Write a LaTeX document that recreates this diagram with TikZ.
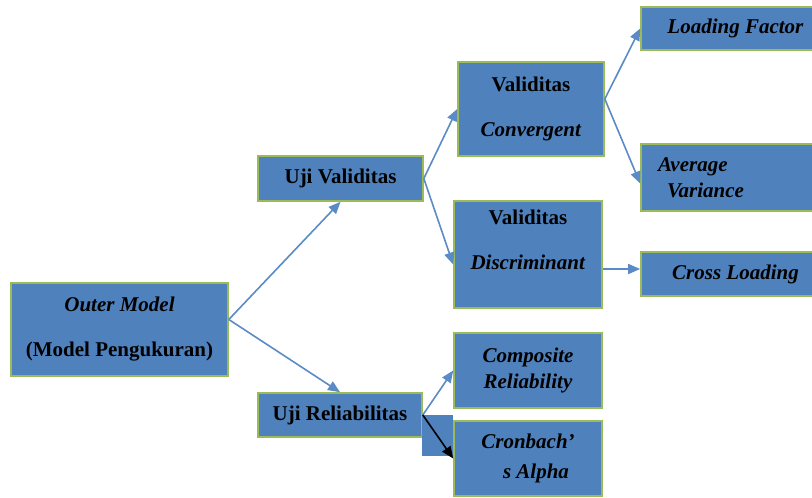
\documentclass[tikz,border=0pt]{standalone}
\usepackage{fontspec}
\setmainfont{Liberation Serif}
\usetikzlibrary{arrows.meta}
\definecolor{boxblue}{HTML}{4F81BD}
\definecolor{boxgreen}{HTML}{9BBB59}
\definecolor{arrowblue}{HTML}{5B8BC6}

\begin{document}
\begin{tikzpicture}[
    x=0.5pt, y=-0.5pt,
    -{Triangle[length=6pt,width=5pt]},
    line width=0.8pt,
    draw=arrowblue,
    box node/.style={rectangle,fill=boxblue,draw=boxgreen,line width=0.8pt,
      inner sep=0pt,align=center,text=black,
      font=\fontsize{10.5}{12}\selectfont\bfseries},
    patch node/.style={rectangle,fill=boxblue,inner sep=0pt,
      minimum width=15.5pt,minimum height=20.5pt}]

  \useasboundingbox (0,0) rectangle (812,497);

  \node[box node,minimum width=108.5pt,minimum height=46.5pt] (OuterModel) at (119.5,329.5)
    {\textit{Outer Model}\\[10.5pt](Model Pengukuran)};
  \node[box node,minimum width=82.5pt,minimum height=22.5pt] (UjiValiditas) at (340.5,178.5)
    {Uji Validitas};
  \node[box node,minimum width=82pt,minimum height=22pt] (UjiReliabilitas) at (340,415)
    {Uji Reliabilitas};
  \node[box node,minimum width=73pt,minimum height=47pt] (ValConvergent) at (531,109)
    {Validitas\\[10.5pt]\textit{Convergent}};
  \node[box node,minimum width=74pt,minimum height=53.5pt] (ValDiscriminant) at (528,254.5)
    {Validitas\\[10.5pt]\textit{Discriminant}\\[3pt]};
  \node[box node,minimum width=94.5pt,minimum height=21.5pt] (LoadingFactor) at (735.5,28.5)
    {\textit{Loading Factor}};
  \node[box node,minimum width=94.5pt,minimum height=33.5pt,align=left,
    text width=77.5pt,inner xsep=8.5pt] (AvgVariance) at (735.5,177.5)
    {\textit{Average}\\[1pt]\hspace*{4.5pt}\textit{Variance}};
  \node[box node,minimum width=94.5pt,minimum height=22pt] (CrossLoading) at (735.5,274)
    {\textit{Cross Loading}};
  \node[box node,minimum width=74pt,minimum height=37.5pt] (CompReliability) at (528,370.5)
    {\textit{Composite}\\[1pt]\textit{Reliability}};
  \node[box node,minimum width=74pt,minimum height=37.5pt] (CronbachAlpha) at (528,458.5)
    {\textit{Cronbach’}\\[3pt]\hspace*{8pt}\textit{s Alpha}};
  \node[patch node] (Patch) at (437.5,435.5) {};

  \path
    ([yshift=5pt]OuterModel.east)
         edge (UjiValiditas.south)
         edge (UjiReliabilitas.north)
    (UjiValiditas.east)
         edge (ValConvergent.west)
         edge ([yshift=-5pt]ValDiscriminant.west)
    ([yshift=5pt]ValConvergent.east)
         edge (LoadingFactor.west)
         edge ([yshift=-3pt]AvgVariance.west)
    ([yshift=-7.25pt]ValDiscriminant.east)
         edge ([yshift=2.5pt]CrossLoading.west)
    (UjiReliabilitas.east)
         edge (CompReliability.west)
         edge [draw=black] (CronbachAlpha.west);
\end{tikzpicture}
\end{document}
